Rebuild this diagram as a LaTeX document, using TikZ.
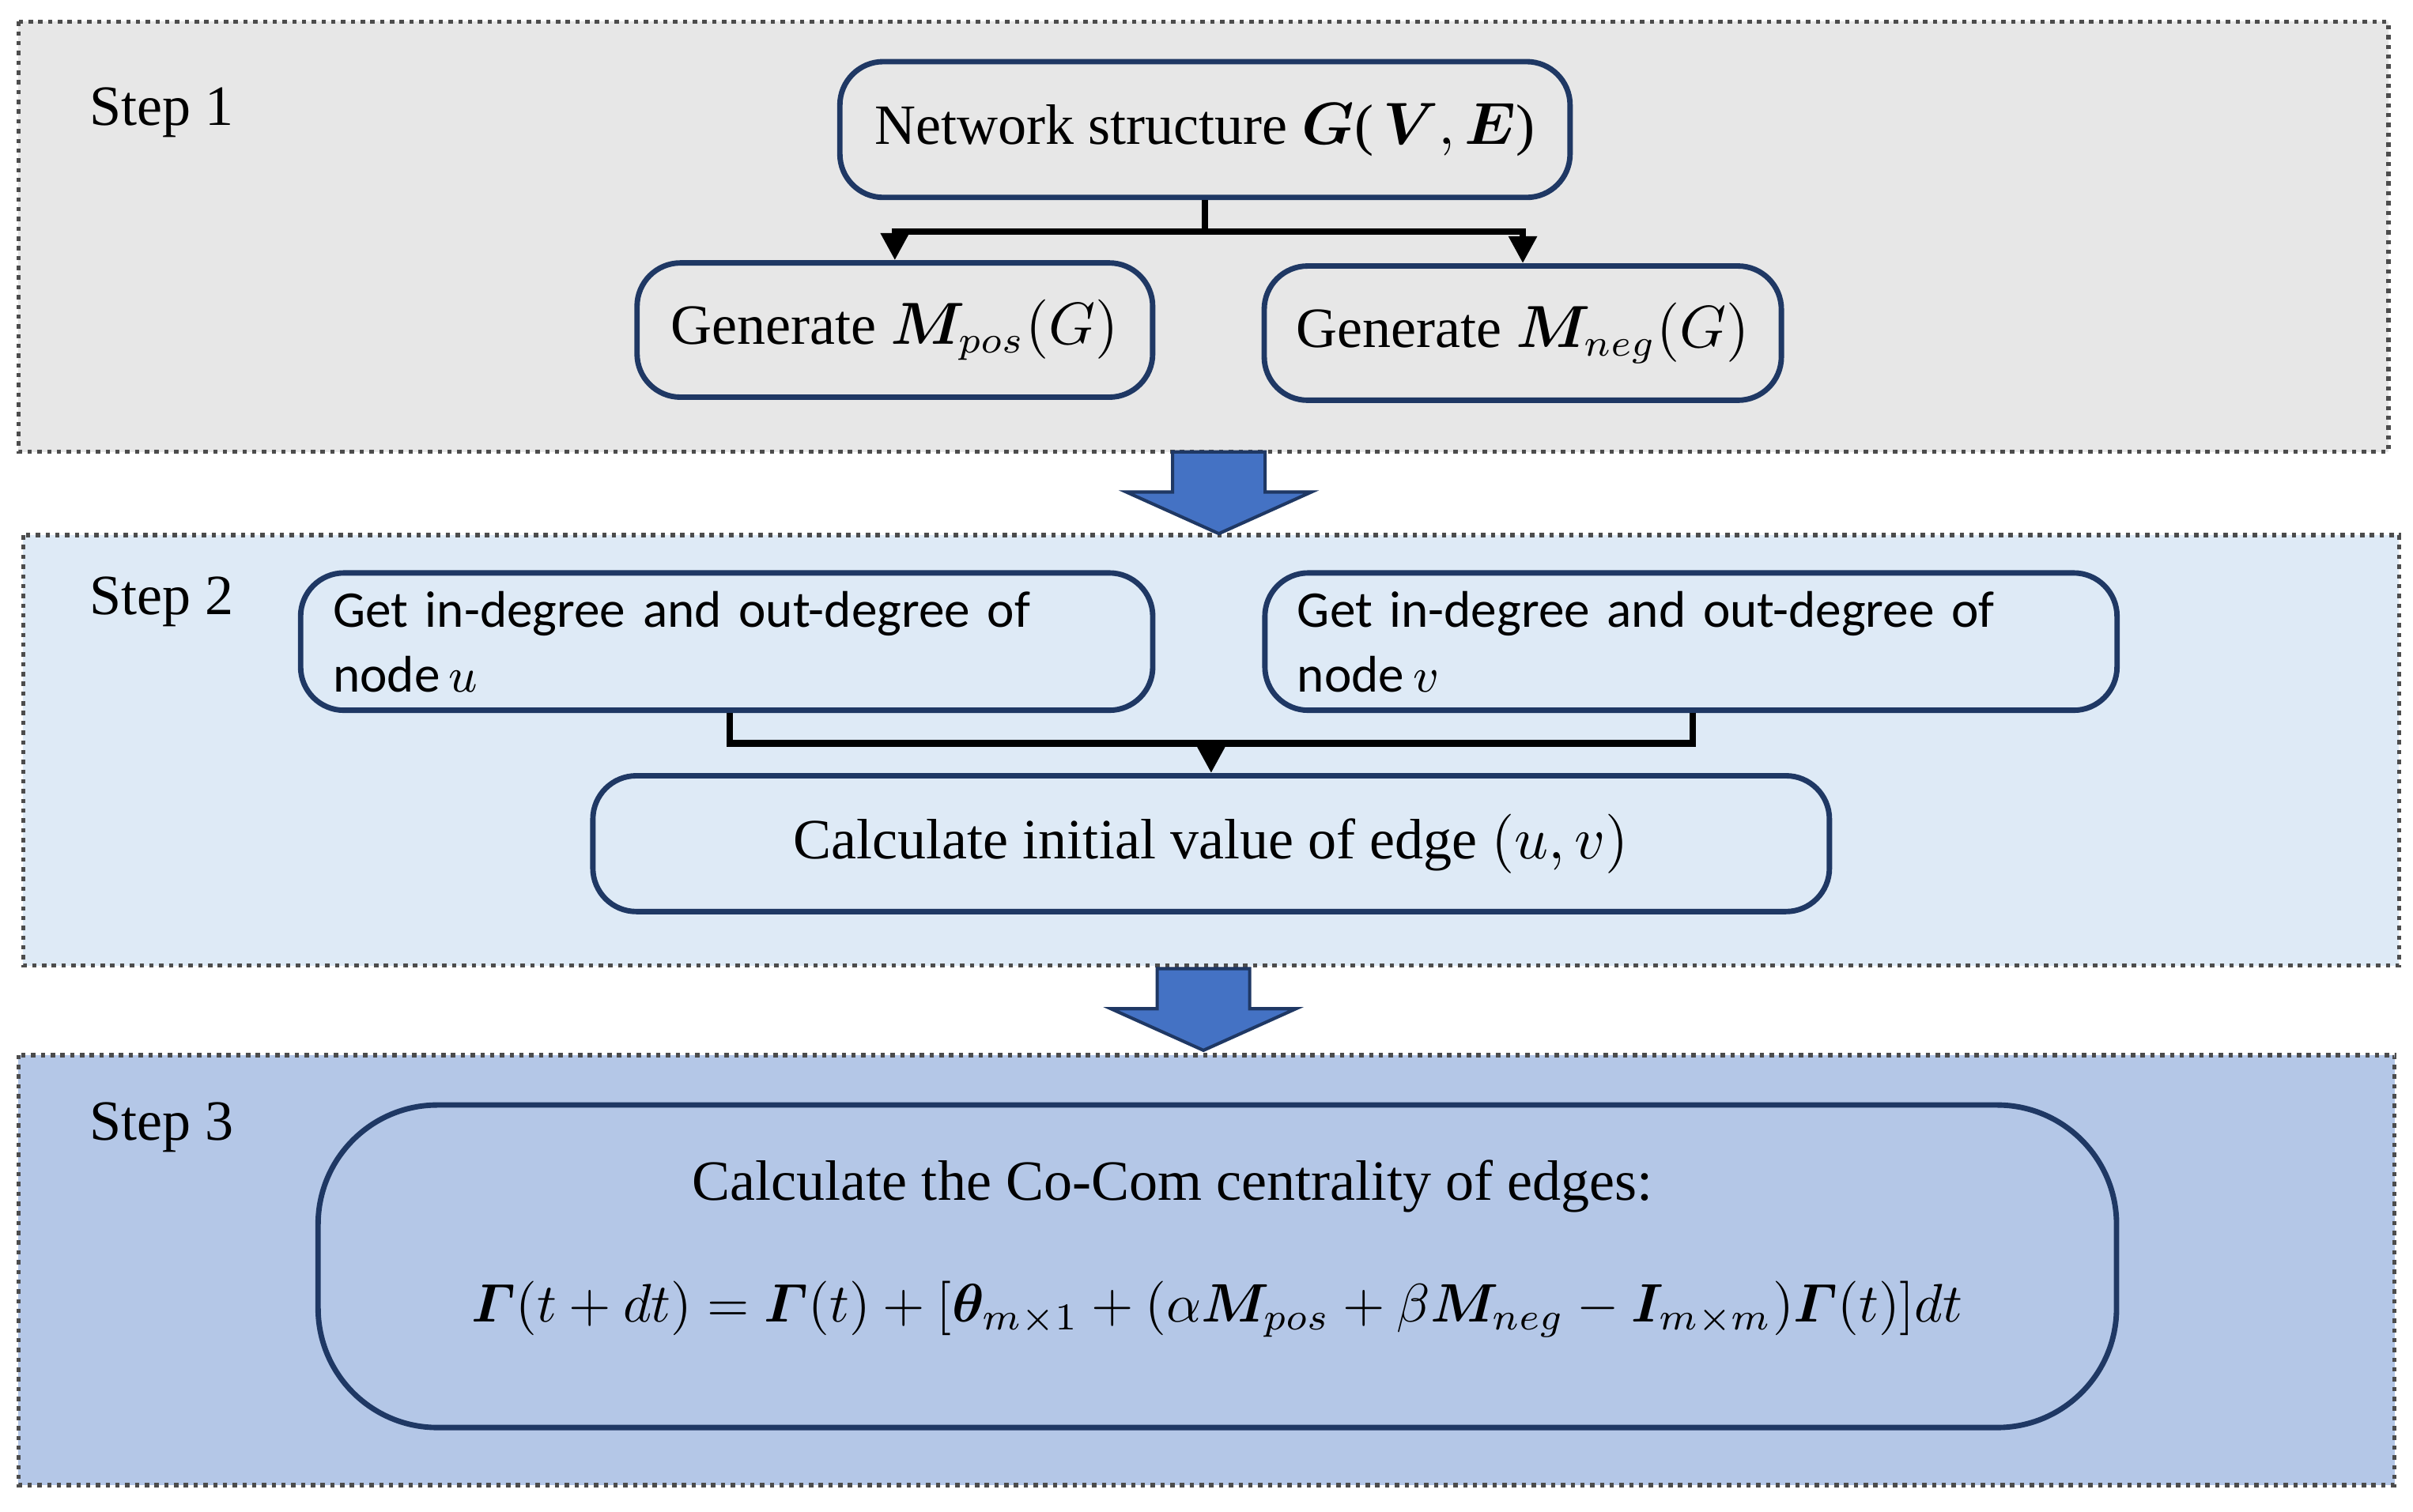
\documentclass[tikz,border=0pt]{standalone}
\usepackage{amsmath,bm}
\usepackage{fontspec}
\setmainfont{Liberation Serif}
\newfontfamily\cbsans{Carlito}
\usetikzlibrary{positioning,arrows.meta}
\definecolor{stepa}{RGB}{231,231,231}
\definecolor{stepb}{RGB}{222,234,246}
\definecolor{stepc}{RGB}{180,199,231}
\definecolor{boxline}{RGB}{31,56,100}
\definecolor{bigarrow}{RGB}{68,114,196}
\tikzset{
  panel/.style={draw=black!70,densely dotted,line width=0.8pt},
  box/.style={draw=boxline,line width=1pt,rounded corners=8pt,font=\fontsize{10.5}{12}\selectfont},
  steplbl/.style={font=\fontsize{10.5}{12}\selectfont},
  sansbox/.style={box,text width=5.1cm,align=left,font=\cbsans\fontsize{9.5}{12}\selectfont},
  link/.style={line width=1.2pt,-{Triangle[length=5pt,width=5pt]}},
  down/.style={fill=bigarrow,draw=boxline,line width=0.6pt}
}
\newcommand{\bigdown}[2]{% centre x, top y
  \draw[down] (#1-30,#2) -- (#1+30,#2) -- (#1+30,#2+26) -- (#1+60,#2+26)
    -- (#1,#2+53) -- (#1-60,#2+26) -- (#1-30,#2+26) -- cycle;}
\begin{document}
\begin{tikzpicture}[x=0.01cm,y=-0.01cm]
\useasboundingbox (0,0) rectangle (1564,980);
\fill[white] (0,0) rectangle (1564,980);
% panels
\draw[panel,fill=stepa] (12,14) rectangle (1548,293);
\draw[panel,fill=stepb] (15,347) rectangle (1555,626);
\draw[panel,fill=stepc] (12,684) rectangle (1552,963);
\node[steplbl] (s1) at (105,73) {Step 1};
\node[steplbl] (s2) at (105,390) {Step 2};
\node[steplbl] (s3) at (105,731) {Step 3};
% step 1
\node[box,minimum width=4.73cm,minimum height=0.88cm] (net) at (781,84)
  {Network structure $\bm{G}$(\,$\bm{V},\bm{E}$)};
\node[box,minimum width=3.34cm,minimum height=0.87cm] (pos) at (580,214)
  {Generate $\bm{M}_{pos}(G)$};
\node[box,minimum width=3.35cm,minimum height=0.87cm] (neg) at (987,216)
  {Generate $\bm{M}_{neg}(G)$};
\coordinate (j1) at (781,150);
\draw[line width=1.2pt] (net.south) -- (j1);
\draw[link] (j1) -| (pos.north);
\draw[link] (j1) -| (neg.north);
% step 2
\node[sansbox,minimum width=5.52cm,minimum height=0.88cm] (du) at (471,416)
  {Get in-degree and out-degree of\\ node\,$u$};
\node[sansbox,minimum width=5.52cm,minimum height=0.88cm] (dv) at (1096,416)
  {Get in-degree and out-degree of\\ node\,$v$};
\node[box,minimum width=8.01cm,minimum height=0.88cm] (init) at (785,547)
  {Calculate initial value of edge $(u,v)$};
\coordinate (ja) at (473,482);
\coordinate (jb) at (1097,482);
\draw[line width=1.2pt] (du.south -| ja) -- (ja) -- (jb) -- (dv.south -| jb);
\draw[link] (init.north |- ja) -- (init.north);
% step 3
\node[box,rounded corners=22pt,minimum width=11.65cm,minimum height=2.09cm] (cc) at (789,821) {};
\node[font=\fontsize{10.5}{12}\selectfont] (cct) at (760,769) {Calculate the Co-Com centrality of edges:};
\node[font=\fontsize{10}{12}\selectfont] (eq) at (789,849)
  {$\bm{\varGamma}(t+dt)=\bm{\varGamma}(t)+[\bm{\theta}_{m\times1}+(\alpha\bm{M}_{pos}+\beta\bm{M}_{neg}-\bm{I}_{m\times m})\bm{\varGamma}(t)]dt$};
% big arrows
\bigdown{790}{293}
\bigdown{780}{628}
\end{tikzpicture}
\end{document}
